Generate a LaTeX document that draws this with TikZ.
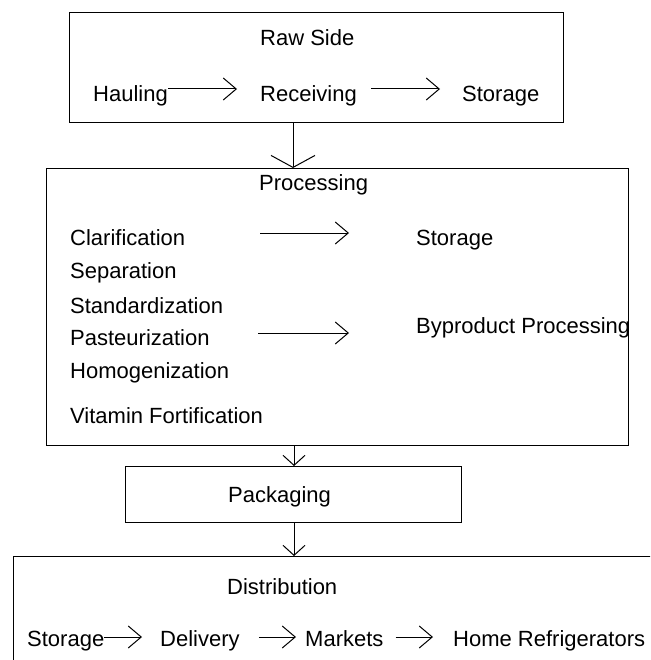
\documentclass[tikz,border=0pt]{standalone}
\usepackage{fontspec}
\setmainfont{Liberation Sans}
\usetikzlibrary{arrows.meta}
\begin{document}
\begin{tikzpicture}[x=1pt,y=-1pt,
  box/.style={draw, line width=1.4pt, inner sep=0pt, anchor=north west},
  lbl/.style={inner sep=0pt, anchor=base west, font=\fontsize{22}{26}\selectfont},
  harr/.style={line width=1pt, -{Straight Barb[length=13pt,width=22pt,line width=1pt]}},
  vbig/.style={line width=1pt, -{Straight Barb[length=12pt,width=44pt,line width=1pt]}},
  vsmall/.style={line width=1pt, -{Straight Barb[length=10pt,width=22pt,line width=1pt]}}]
\useasboundingbox (0,0) rectangle (650,660);
\clip (0,0) rectangle (650,660);
% Raw side
\node[box, minimum width=494pt, minimum height=110pt] (raw) at (69,12) {};
\node[lbl] (rawt) at (260,45.7) {Raw Side};
\node[lbl] (haul) at (93,101.7) {Hauling};
\node[lbl] (recv) at (260,101.7) {Receiving};
\node[lbl] (rstor) at (462,101.7) {Storage};
\draw[harr, shorten >=23pt] (haul.east |- 0,89) -- (recv.west |- 0,89);
\draw[harr, shorten <=14pt, shorten >=22pt] (recv.east |- 0,89) -- (rstor.west |- 0,89);
% Processing
\node[box, minimum width=582pt, minimum height=277pt] (proc) at (46,168) {};
\draw[vbig] (raw.south -| 293,0) -- (proc.north -| 293,0);
\node[lbl] (proct) at (259,190) {Processing};
\node[lbl] (clar) at (70,245) {Clarification};
\node[lbl] (sep) at (70,278) {Separation};
\node[lbl] (std) at (70,313) {Standardization};
\node[lbl] (past) at (70,345) {Pasteurization};
\node[lbl] (homo) at (70,378) {Homogenization};
\node[lbl] (vit) at (70,423) {Vitamin Fortification};
\node[lbl] (pstor) at (416,245) {Storage};
\node[lbl] (byp) at (416,333) {Byproduct Processing};
\draw[harr, shorten <=75pt, shorten >=67pt] (clar.east |- 0,233) -- (pstor.west |- 0,233);
\draw[harr, shorten <=48.6pt, shorten >=67pt] (past.east |- 0,333) -- (byp.west |- 0,333);
% Packaging
\node[box, minimum width=336pt, minimum height=56pt] (pack) at (125,466) {};
\node[lbl] (packt) at (228,502) {Packaging};
\draw[vsmall] (proc.south -| 294,0) -- (pack.north -| 294,0);
% Distribution
\node[box, minimum width=660pt, minimum height=120pt] (dist) at (13,556) {};
\draw[vsmall] (pack.south -| 294,0) -- (dist.north -| 294,0);
\node[lbl] (distt) at (227,594) {Distribution};
\node[lbl] (dstor) at (27,646) {Storage};
\node[lbl] (deliv) at (160,646) {Delivery};
\node[lbl] (mark) at (305,646) {Markets};
\node[lbl] (home) at (453,646) {Home Refrigerators};
\draw[harr, shorten >=18pt] (dstor.east |- 0,637) -- (deliv.west |- 0,637);
\draw[harr, shorten <=19pt, shorten >=9pt] (deliv.east |- 0,637) -- (mark.west |- 0,637);
\draw[harr, shorten <=12pt, shorten >=20pt] (mark.east |- 0,637) -- (home.west |- 0,637);
\end{tikzpicture}
\end{document}
